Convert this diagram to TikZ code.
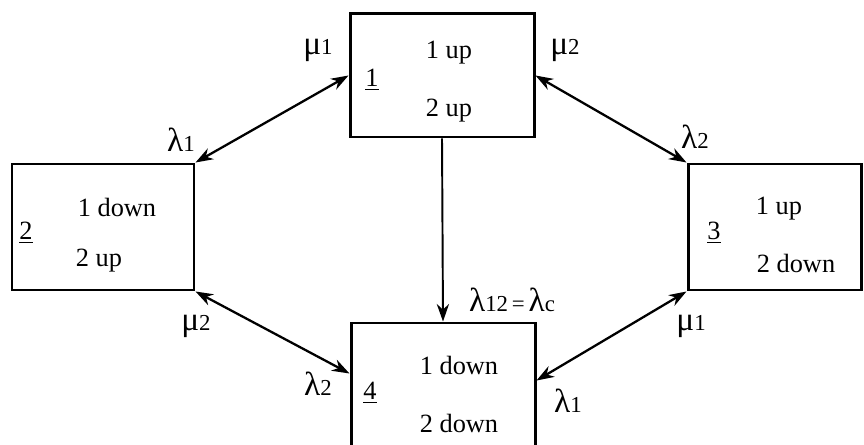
\documentclass[tikz,border=0pt]{standalone}
\usepackage{fontspec}
\setmainfont{Liberation Serif}
\usetikzlibrary{arrows.meta,calc}
\newcommand{\lsub}[1]{{\fontsize{13}{15}\selectfont #1}}
\begin{document}
\begin{tikzpicture}[x=0.02cm, y=-0.02cm,
    statebox/.style={draw, line width=1.7pt, minimum width=#1*0.02cm,
                     inner sep=0pt},
    boxtext/.style={font=\fontsize{15}{17}\selectfont, inner sep=1pt},
    rate/.style={font=\fontsize{19}{21}\selectfont, inner sep=1pt},
    trans/.style={line width=1.3pt, {Stealth[length=10pt,width=7pt]}-{Stealth[length=10pt,width=7pt]}},
    onetrans/.style={line width=1.1pt, -{Stealth[length=10pt,width=7pt]}}]
  \clip (0,0) rectangle (864,445);
  % states
  \node[statebox=184, minimum height=123*0.02cm] (b1) at (442,75.5) {};
  \node[statebox=182, minimum height=126*0.02cm] (b2) at (103,227) {};
  \node[statebox=173, minimum height=126*0.02cm] (b3) at (774.5,227) {};
  \node[statebox=184, minimum height=137*0.02cm] (b4) at (443,391.5) {};
  % texts in the boxes
  \node[boxtext] (n1) at (372,80) {\underline{1}};
  \node[boxtext] (t1a) at (449,53) {1 up};
  \node[boxtext] (t1b) at (449,111) {2 up};
  \node[boxtext] (n2) at (26,233) {\underline{2}};
  \node[boxtext] (t2a) at (117,207) {1 down};
  \node[boxtext] (t2b) at (99,261) {2 up};
  \node[boxtext] (n3) at (714,233) {\underline{3}};
  \node[boxtext] (t3a) at (779,209) {1 up};
  \node[boxtext] (t3b) at (796,263) {2 down};
  \node[boxtext] (n4) at (370,393) {\underline{4}};
  \node[boxtext] (t4a) at (459,365) {1 down};
  \node[boxtext] (t4b) at (459,423) {2 down};
  % transitions
  \draw[trans] (b2.north east) -- (b1.west);
  \draw[trans] (b1.east) -- (b3.north west);
  \draw[trans] (b2.south east) -- ($(b4.north west)+(0,52)$);
  \draw[trans] (b3.south west) -- ($(b4.north east)+(0,59)$);
  \draw[onetrans] (b1.south) -- (b4.north);
  % rates
  \node[rate] (m1a) at (318,50) {μ\lsub{1}};
  \node[rate] (l1a) at (181,140) {λ\lsub{1}};
  \node[rate] (m2a) at (565,50) {μ\lsub{2}};
  \node[rate] (l2a) at (695,137) {λ\lsub{2}};
  \node[rate] (m2b) at (196,326) {μ\lsub{2}};
  \node[rate] (l2b) at (318,384) {λ\lsub{2}};
  \node[rate] (m1b) at (691,326) {μ\lsub{1}};
  \node[rate] (l1b) at (568,401) {λ\lsub{1}};
  \node[rate] (lc) at (512,300) {λ\lsub{12\,=\,}λ\lsub{c}};
\end{tikzpicture}
\end{document}
